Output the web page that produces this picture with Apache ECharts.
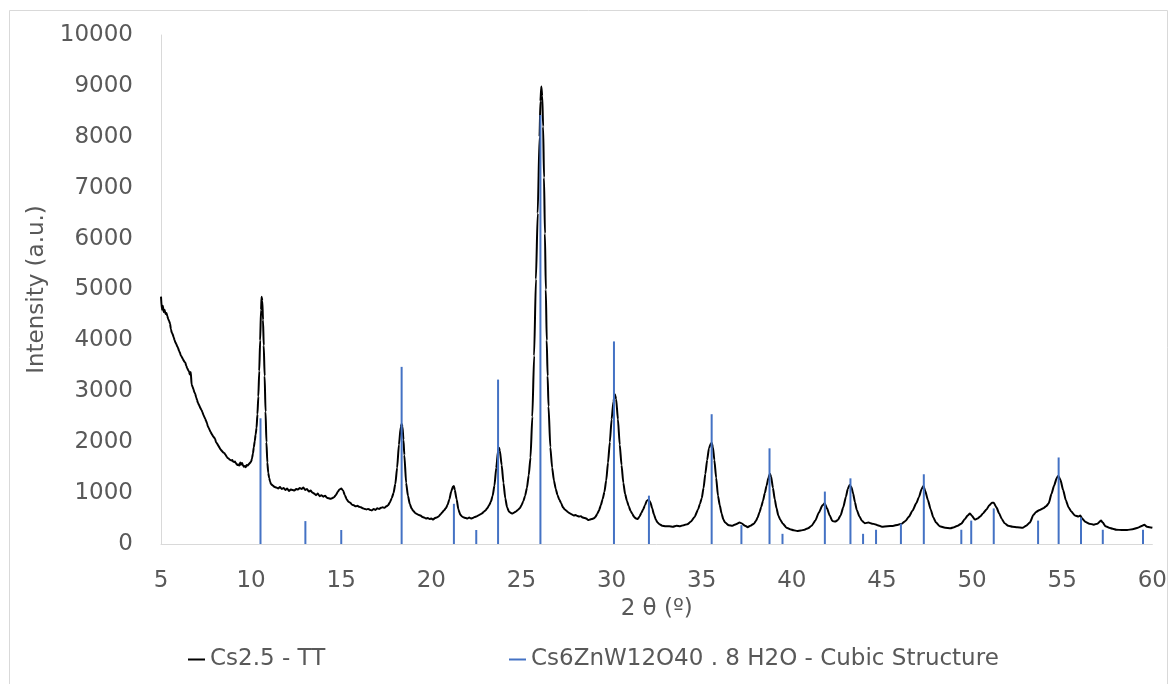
<!DOCTYPE html>
<html>
<head>
<meta charset="utf-8">
<title>XRD pattern</title>
<script src="https://cdn.jsdelivr.net/npm/echarts@6/dist/echarts.min.js"></script>
<style>
  html, body { margin: 0; padding: 0; background: #fff; }
  #chart { width: 1170px; height: 684px; }
</style>
</head>
<body>
<div id="chart"></div>
<script>
// Measured diffractogram of Cs2.5 - TT: scan angle (2θ, degrees) and intensity (a.u.)
const scanAngle = [
  5.00, 5.05, 5.10, 5.15, 5.20, 5.25, 5.30, 5.35, 5.40, 5.45, 5.50, 5.55, 5.60, 5.65, 5.70, 5.75, 5.80, 5.85, 5.90, 5.95,
  6.00, 6.05, 6.10, 6.15, 6.20, 6.25, 6.30, 6.35, 6.40, 6.45, 6.50, 6.55, 6.60, 6.65, 6.70, 6.75, 6.80, 6.85, 6.90, 6.95,
  7.00, 7.05, 7.10, 7.15, 7.20, 7.25, 7.30, 7.35, 7.40, 7.45, 7.50, 7.55, 7.60, 7.65, 7.70, 7.75, 7.80, 7.85, 7.90, 7.95,
  8.00, 8.05, 8.10, 8.15, 8.20, 8.25, 8.30, 8.35, 8.40, 8.45, 8.50, 8.55, 8.60, 8.65, 8.70, 8.75, 8.80, 8.85, 8.90, 8.95,
  9.00, 9.05, 9.10, 9.15, 9.20, 9.25, 9.30, 9.35, 9.40, 9.45, 9.50, 9.55, 9.60, 9.65, 9.70, 9.75, 9.80, 9.85, 9.90, 9.95,
  10.00, 10.05, 10.10, 10.15, 10.20, 10.25, 10.30, 10.35, 10.40, 10.45, 10.50, 10.55, 10.58, 10.62, 10.66, 10.70, 10.75, 10.80, 10.85, 10.90,
  10.95, 11.00, 11.05, 11.10, 11.20, 11.30, 11.40, 11.50, 11.60, 11.70, 11.80, 11.90, 12.00, 12.10, 12.20, 12.30, 12.40, 12.50, 12.60, 12.70,
  12.80, 12.90, 13.00, 13.10, 13.20, 13.30, 13.40, 13.50, 13.60, 13.70, 13.80, 13.90, 14.00, 14.10, 14.20, 14.30, 14.40, 14.50, 14.60, 14.70,
  14.80, 14.90, 15.00, 15.10, 15.20, 15.30, 15.40, 15.50, 15.60, 15.70, 15.80, 15.90, 16.00, 16.10, 16.20, 16.30, 16.40, 16.50, 16.60, 16.70,
  16.80, 16.90, 17.00, 17.10, 17.20, 17.30, 17.40, 17.50, 17.60, 17.70, 17.80, 17.90, 18.00, 18.10, 18.20, 18.30, 18.35, 18.40, 18.45, 18.50,
  18.60, 18.70, 18.80, 18.90, 19.00, 19.10, 19.20, 19.30, 19.40, 19.50, 19.60, 19.70, 19.80, 19.90, 20.00, 20.10, 20.20, 20.30, 20.40, 20.50,
  20.60, 20.70, 20.80, 20.90, 21.00, 21.10, 21.20, 21.25, 21.30, 21.40, 21.50, 21.60, 21.70, 21.80, 21.90, 22.00, 22.10, 22.20, 22.30, 22.40,
  22.50, 22.60, 22.70, 22.80, 22.90, 23.00, 23.10, 23.20, 23.30, 23.40, 23.50, 23.60, 23.70, 23.75, 23.80, 23.90, 24.00, 24.10, 24.20, 24.30,
  24.40, 24.50, 24.60, 24.70, 24.80, 24.90, 25.00, 25.10, 25.20, 25.30, 25.40, 25.50, 25.60, 25.70, 25.80, 25.90, 26.00, 26.05, 26.10, 26.15,
  26.20, 26.25, 26.30, 26.35, 26.40, 26.45, 26.50, 26.60, 26.70, 26.80, 26.90, 27.00, 27.10, 27.20, 27.30, 27.40, 27.50, 27.60, 27.70, 27.80,
  27.90, 28.00, 28.10, 28.20, 28.30, 28.40, 28.50, 28.60, 28.70, 28.80, 28.90, 29.00, 29.10, 29.20, 29.30, 29.40, 29.50, 29.60, 29.70, 29.80,
  29.90, 30.00, 30.10, 30.18, 30.25, 30.35, 30.45, 30.55, 30.65, 30.75, 30.85, 30.95, 31.05, 31.15, 31.25, 31.35, 31.45, 31.55, 31.65, 31.75,
  31.85, 31.95, 32.05, 32.15, 32.25, 32.35, 32.45, 32.55, 32.65, 32.80, 33.00, 33.20, 33.40, 33.60, 33.80, 34.00, 34.20, 34.40, 34.60, 34.80,
  34.90, 35.00, 35.10, 35.20, 35.30, 35.40, 35.50, 35.55, 35.62, 35.70, 35.80, 35.90, 36.00, 36.10, 36.20, 36.30, 36.50, 36.70, 36.90, 37.10,
  37.20, 37.40, 37.55, 37.70, 37.90, 38.00, 38.10, 38.20, 38.30, 38.40, 38.50, 38.60, 38.70, 38.78, 38.85, 38.95, 39.05, 39.15, 39.25, 39.35,
  39.50, 39.70, 39.90, 40.10, 40.30, 40.50, 40.70, 40.90, 41.10, 41.30, 41.50, 41.70, 41.82, 41.95, 42.10, 42.25, 42.40, 42.55, 42.70, 42.85,
  43.00, 43.10, 43.20, 43.30, 43.40, 43.50, 43.60, 43.75, 43.90, 44.05, 44.25, 44.45, 44.60, 44.75, 45.00, 45.30, 45.60, 45.90, 46.10, 46.30,
  46.50, 46.70, 46.90, 47.05, 47.20, 47.30, 47.40, 47.55, 47.70, 47.85, 48.00, 48.20, 48.50, 48.80, 49.00, 49.20, 49.40, 49.60, 49.75, 49.88,
  50.00, 50.15, 50.30, 50.45, 50.60, 50.80, 50.95, 51.10, 51.20, 51.35, 51.50, 51.65, 51.80, 52.00, 52.25, 52.50, 52.80, 53.00, 53.20, 53.40,
  53.55, 53.75, 53.95, 54.10, 54.25, 54.40, 54.55, 54.70, 54.78, 54.90, 55.05, 55.20, 55.35, 55.50, 55.70, 55.90, 56.00, 56.10, 56.30, 56.50,
  56.75, 56.95, 57.15, 57.25, 57.40, 57.60, 57.80, 58.00, 58.30, 58.60, 58.90, 59.20, 59.45, 59.55, 59.70, 59.85, 60.00
];
const scanIntensity = [
  4860, 4600, 4680, 4560, 4600, 4520, 4540, 4480, 4420, 4380, 4330, 4220, 4150, 4120, 4060, 4010, 3960, 3930, 3880, 3850,
  3790, 3760, 3700, 3680, 3640, 3610, 3580, 3560, 3500, 3460, 3420, 3390, 3330, 3380, 3130, 3090, 3040, 2980, 2950, 2880,
  2830, 2770, 2740, 2700, 2660, 2630, 2590, 2540, 2500, 2460, 2420, 2370, 2310, 2280, 2240, 2200, 2170, 2140, 2110, 2090,
  2070, 2000, 1980, 1950, 1920, 1890, 1860, 1840, 1820, 1800, 1790, 1770, 1740, 1710, 1690, 1680, 1660, 1650, 1640, 1650,
  1620, 1610, 1620, 1590, 1570, 1550, 1560, 1540, 1600, 1560, 1590, 1540, 1520, 1530, 1510, 1550, 1540, 1560, 1580, 1600,
  1620, 1680, 1780, 1900, 2020, 2150, 2280, 2550, 2900, 3400, 4000, 4600, 4860, 4780, 4400, 3900, 3300, 2600, 2000, 1600,
  1400, 1300, 1230, 1180, 1150, 1120, 1110, 1090, 1120, 1080, 1100, 1060, 1090, 1040, 1070, 1060, 1050, 1080, 1070, 1100,
  1080, 1110, 1060, 1080, 1030, 1050, 1010, 990, 960, 990, 940, 960, 930, 950, 910, 900, 890, 900, 920, 960,
  1020, 1070, 1090, 1050, 960, 880, 830, 810, 770, 760, 740, 750, 730, 720, 700, 690, 680, 690, 670, 660,
  690, 670, 700, 690, 710, 720, 710, 740, 760, 820, 900, 1000, 1180, 1500, 1950, 2300, 2360, 2300, 2050, 1750,
  1200, 950, 790, 700, 650, 610, 590, 570, 560, 530, 520, 500, 510, 490, 500, 480, 510, 520, 540, 580,
  620, 660, 700, 770, 880, 1030, 1130, 1140, 1060, 880, 680, 580, 540, 520, 510, 500, 520, 500, 510, 530,
  540, 560, 580, 600, 630, 660, 700, 760, 830, 950, 1150, 1500, 1830, 1890, 1830, 1550, 1200, 900, 720, 640,
  610, 600, 620, 640, 670, 700, 760, 840, 950, 1100, 1350, 1700, 2500, 3700, 5200, 6500, 8000, 8700, 8990, 8800,
  8200, 7200, 6100, 5000, 4000, 3300, 2700, 1900, 1500, 1250, 1080, 960, 870, 800, 720, 680, 650, 620, 600, 580,
  560, 570, 550, 540, 545, 520, 510, 500, 470, 480, 490, 500, 530, 590, 660, 760, 880, 1020, 1250, 1600,
  2000, 2450, 2800, 2940, 2850, 2450, 1950, 1550, 1200, 980, 850, 740, 650, 590, 530, 500, 490, 540, 610, 680,
  760, 850, 870, 820, 700, 580, 480, 420, 390, 360, 350, 350, 340, 360, 350, 370, 390, 440, 530, 680,
  790, 900, 1100, 1380, 1650, 1880, 1970, 1990, 1900, 1650, 1300, 950, 760, 600, 480, 420, 370, 360, 390, 420,
  410, 360, 330, 360, 400, 450, 520, 620, 730, 850, 1000, 1150, 1300, 1380, 1320, 1100, 880, 700, 560, 480,
  400, 320, 290, 270, 255, 265, 280, 310, 360, 460, 620, 760, 800, 700, 560, 450, 440, 470, 560, 720,
  930, 1080, 1160, 1120, 990, 820, 670, 540, 450, 410, 420, 400, 390, 370, 340, 350, 355, 380, 400, 450,
  540, 660, 800, 920, 1080, 1140, 1040, 860, 680, 520, 420, 350, 320, 310, 330, 360, 400, 490, 560, 600,
  550, 480, 500, 540, 600, 680, 760, 810, 810, 720, 600, 490, 410, 360, 340, 330, 320, 360, 420, 570,
  630, 670, 700, 740, 800, 980, 1150, 1300, 1340, 1260, 1060, 860, 720, 640, 560, 540, 560, 500, 430, 400,
  380, 400, 460, 420, 350, 320, 300, 280, 275, 275, 290, 320, 360, 380, 340, 330, 320
];

// Reference pattern Cs6ZnW12O40 . 8 H2O (cubic): line positions and relative intensities
const refAngle = [
  10.52, 13.01, 15.00, 18.35, 21.25, 22.49, 23.70, 26.05, 30.13, 32.07,
  35.55, 37.20, 38.76, 39.48, 41.83, 43.25, 43.95, 44.67, 46.05, 47.32,
  49.40, 49.95, 51.20, 53.66, 54.80, 56.04, 57.25, 59.48
];
const refIntensity = [
  2470, 450, 275, 3480, 790, 275, 3230, 8430, 3980, 950,
  2550, 370, 1880, 200, 1030, 1290, 200, 280, 400, 1370,
  280, 460, 700, 460, 1700, 520, 280, 280
];

const seriesNames = ['Cs2.5 - TT', 'Cs6ZnW12O40 . 8 H2O - Cubic Structure'];

const scanData = scanAngle.map((a, i) => [a, scanIntensity[i]]);
const refData = refAngle.map((a, i) => [a, refIntensity[i]]);

const textColor = '#595959';
const axisColor = '#D9D9D9';
const fontFamily = 'DejaVu Sans';

const chart = echarts.init(document.getElementById('chart'), null, { renderer: 'canvas' });

chart.setOption({
  backgroundColor: '#ffffff',
  animation: false,
  textStyle: { fontFamily: fontFamily },
  graphic: [{
    type: 'rect',
    shape: { x: 9.5, y: 10.5, width: 1158, height: 690 },
    style: { fill: 'none', stroke: axisColor, lineWidth: 1 },
    silent: true,
    z: -10
  }],
  grid: { left: 161, right: 15, top: 35, bottom: 140, containLabel: false },
  xAxis: {
    type: 'value',
    min: 5,
    max: 60,
    interval: 5,
    name: '2 θ (º)',
    nameLocation: 'middle',
    nameGap: 29,
    nameTextStyle: { color: textColor, fontSize: 23, fontFamily: fontFamily },
    axisLine: { show: true, onZero: false, lineStyle: { color: axisColor, width: 1 } },
    axisTick: { show: false },
    splitLine: { show: false },
    axisLabel: {
      color: textColor, fontSize: 23, margin: 26, fontFamily: fontFamily,
      showMinLabel: true, showMaxLabel: true,
      formatter: (v) => String(v)
    }
  },
  yAxis: {
    type: 'value',
    min: 0,
    max: 10000,
    interval: 1000,
    name: 'Intensity (a.u.)',
    nameLocation: 'middle',
    nameGap: 98,
    nameRotate: 90,
    nameTextStyle: { color: textColor, fontSize: 23, fontFamily: fontFamily },
    axisLine: { show: true, lineStyle: { color: axisColor, width: 1 } },
    axisTick: { show: false },
    splitLine: { show: false },
    axisLabel: {
      color: textColor, fontSize: 23, margin: 28, fontFamily: fontFamily,
      formatter: (v) => String(v)
    }
  },
  legend: [
    {
      data: [seriesNames[0]],
      left: 183,
      top: 643,
      icon: 'rect',
      itemWidth: 17,
      itemHeight: 2,
      textStyle: { color: textColor, fontSize: 23, fontFamily: fontFamily }
    },
    {
      data: [seriesNames[1]],
      left: 504,
      top: 643,
      icon: 'rect',
      itemWidth: 17,
      itemHeight: 2,
      textStyle: { color: textColor, fontSize: 23, fontFamily: fontFamily }
    }
  ],
  series: [
    {
      name: seriesNames[0],
      type: 'line',
      data: scanData,
      showSymbol: false,
      symbol: 'none',
      smooth: 0.2,
      smoothMonotone: 'x',
      itemStyle: { color: '#000000' },
      lineStyle: { color: '#000000', width: 2 },
      z: 2
    },
    {
      name: seriesNames[1],
      type: 'bar',
      data: refData,
      barWidth: 2,
      itemStyle: { color: '#4472C4' },
      z: 3
    }
  ]
});
</script>
</body>
</html>
